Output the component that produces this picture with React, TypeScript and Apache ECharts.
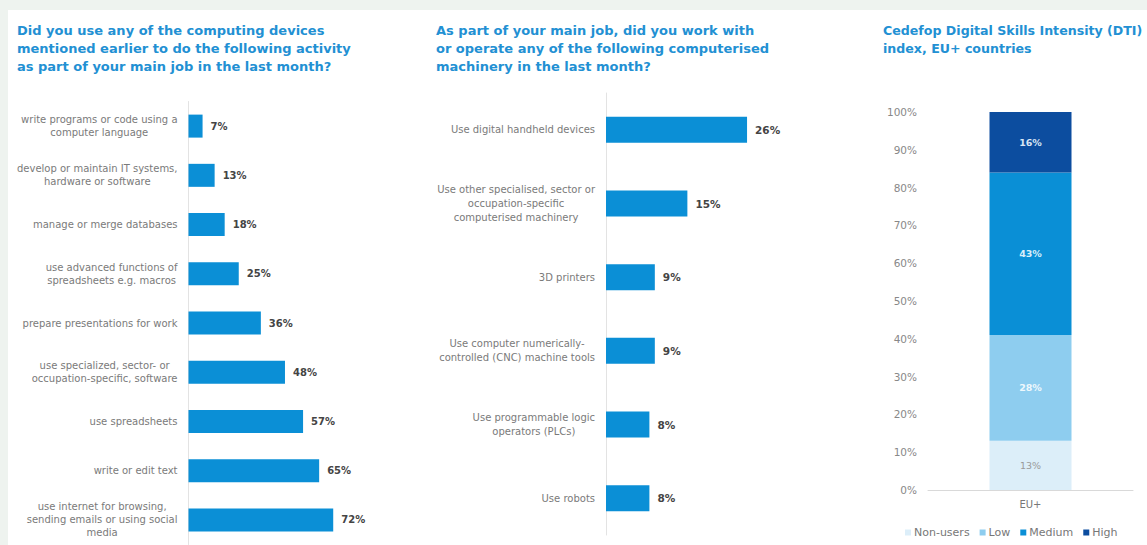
import React, { useEffect, useRef } from "react";
import * as echarts from "echarts";

const activityLabels = [
  "write programs or code using a\ncomputer language",
  "develop or maintain IT systems,\nhardware or software",
  "manage or merge databases",
  "use advanced functions of\nspreadsheets e.g. macros",
  "prepare presentations for work",
  "use specialized, sector- or\noccupation-specific, software",
  "use spreadsheets",
  "write or edit text",
  "use internet for browsing,\nsending emails or using social\nmedia",
];
const activityValues = [7, 13, 18, 25, 36, 48, 57, 65, 72];

const machineryLabels = [
  "Use digital handheld devices",
  "Use other specialised, sector or\noccupation-specific\ncomputerised machinery",
  "3D printers",
  "Use computer numerically-\ncontrolled (CNC) machine tools",
  "Use programmable logic\noperators (PLCs)",
  "Use robots",
];
const machineryValues = [26, 15, 9, 9, 8, 8];

const dtiCategories = ["EU+"];
const dtiNonUsers = [13];
const dtiLow = [28];
const dtiMedium = [43];
const dtiHigh = [16];
const dtiNames = ["Non-users", "Low", "Medium", "High"];

const titleLeft = "Did you use any of the computing devices\nmentioned earlier to do the following activity\nas part of your main job in the last month?";
const titleMiddle = "As part of your main job, did you work with\nor operate any of the following computerised\nmachinery in the last month?";
const titleRight = "Cedefop Digital Skills Intensity (DTI)\nindex, EU+ countries";

const FONT = "DejaVu Sans, Verdana, sans-serif";
const BLUE = "#0b8fd6";
const TITLE_BLUE = "#2290d3";

export default function App() {
  const ref = useRef<HTMLDivElement>(null);
  useEffect(() => {
    if (!ref.current) return;
    const chart = echarts.init(ref.current, undefined, { renderer: "svg" });
    const titleStyle = (size: number) => ({
      fontSize: size,
      fontWeight: "bold",
      color: TITLE_BLUE,
      lineHeight: 18,
      fontFamily: FONT,
    });
    const catLabel = (lh: number) => ({
      align: "right",
      margin: 11,
      formatter: (v: string) => v.split("\n").map((l) => `{c|${l}}`).join("\n"),
      rich: {
        c: { align: "center", fontSize: 10, color: "#7a7a7a", lineHeight: lh, fontFamily: FONT },
      },
    });
    const stackLabel = (color: string, weight: string) => ({
      show: true,
      position: "inside",
      color,
      fontSize: 9.5,
      fontWeight: weight,
      fontFamily: FONT,
      formatter: "{c}%",
    });
    chart.setOption({
      animation: false,
      backgroundColor: "#eef3ef",
      graphic: [
        {
          type: "rect",
          z: -10,
          silent: true,
          shape: { x: 8, y: 10, width: 1139, height: 535 },
          style: { fill: "#ffffff" },
        },
      ],
      title: [
        { text: titleLeft, left: 17, top: 21, padding: 0, textStyle: titleStyle(13) },
        { text: titleMiddle, left: 436, top: 21, padding: 0, textStyle: titleStyle(13) },
        { text: titleRight, left: 883, top: 21, padding: 0, textStyle: titleStyle(12.6) },
      ],
      legend: {
        data: dtiNames,
        left: 900,
        top: 522,
        icon: "rect",
        itemWidth: 6,
        itemHeight: 6,
        itemGap: 10,
        textStyle: { fontSize: 11, color: "#777", fontFamily: FONT, padding: [0, 0, 0, -2] },
      },
      grid: [
        { left: 188.5, top: 101.5, width: 201, height: 443 },
        { left: 606, top: 93, width: 217, height: 442 },
        { left: 928, top: 112, width: 205, height: 378 },
      ],
      xAxis: [
        { gridIndex: 0, type: "value", min: 0, max: 100, show: false },
        { gridIndex: 1, type: "value", min: 0, max: 40, show: false },
        {
          gridIndex: 2,
          type: "category",
          data: dtiCategories,
          axisLine: { lineStyle: { color: "#d9d9d9" } },
          axisTick: { show: false },
          axisLabel: { color: "#777", fontSize: 10, margin: 9, fontFamily: FONT },
        },
      ],
      yAxis: [
        {
          gridIndex: 0,
          type: "category",
          data: activityLabels,
          inverse: true,
          axisLine: { lineStyle: { color: "#e3e3e3" } },
          axisTick: { show: false },
          axisLabel: catLabel(13),
        },
        {
          gridIndex: 1,
          type: "category",
          data: machineryLabels,
          inverse: true,
          axisLine: { lineStyle: { color: "#e3e3e3" } },
          axisTick: { show: false },
          axisLabel: catLabel(14),
        },
        {
          gridIndex: 2,
          type: "value",
          min: 0,
          max: 100,
          interval: 10,
          splitLine: { show: false },
          axisLine: { show: false },
          axisTick: { show: false },
          axisLabel: { formatter: "{value}%", color: "#888", fontSize: 10.5, margin: 11, fontFamily: FONT },
        },
      ],
      series: [
        {
          type: "bar",
          xAxisIndex: 0,
          yAxisIndex: 0,
          data: activityValues,
          barWidth: 23,
          itemStyle: { color: BLUE },
          label: {
            show: true,
            position: "right",
            distance: 8,
            formatter: "{c}%",
            color: "#444",
            fontSize: 10,
            fontWeight: "bold",
            fontFamily: FONT,
          },
        },
        {
          type: "bar",
          xAxisIndex: 1,
          yAxisIndex: 1,
          data: machineryValues,
          barWidth: 26,
          itemStyle: { color: BLUE },
          label: {
            show: true,
            position: "right",
            distance: 8,
            formatter: "{c}%",
            color: "#444",
            fontSize: 10.5,
            fontWeight: "bold",
            fontFamily: FONT,
          },
        },
        {
          name: "Non-users",
          type: "bar",
          stack: "dti",
          xAxisIndex: 2,
          yAxisIndex: 2,
          data: dtiNonUsers,
          barWidth: 82,
          itemStyle: { color: "#dceef9" },
          label: stackLabel("#9a9a9a", "normal"),
        },
        {
          name: "Low",
          type: "bar",
          stack: "dti",
          xAxisIndex: 2,
          yAxisIndex: 2,
          data: dtiLow,
          barWidth: 82,
          itemStyle: { color: "#8ecdef" },
          label: stackLabel("#eef8fd", "bold"),
        },
        {
          name: "Medium",
          type: "bar",
          stack: "dti",
          xAxisIndex: 2,
          yAxisIndex: 2,
          data: dtiMedium,
          barWidth: 82,
          itemStyle: { color: "#0a8fd6" },
          label: stackLabel("#d8eefa", "bold"),
        },
        {
          name: "High",
          type: "bar",
          stack: "dti",
          xAxisIndex: 2,
          yAxisIndex: 2,
          data: dtiHigh,
          barWidth: 82,
          itemStyle: { color: "#0c4d9f" },
          label: stackLabel("#d8e6f5", "bold"),
        },
      ],
    });
    return () => chart.dispose();
  }, []);
  return (
    <div
      ref={ref}
      style={{ position: "fixed", left: 0, top: 0, width: 1147, height: 545 }}
    />
  );
}
